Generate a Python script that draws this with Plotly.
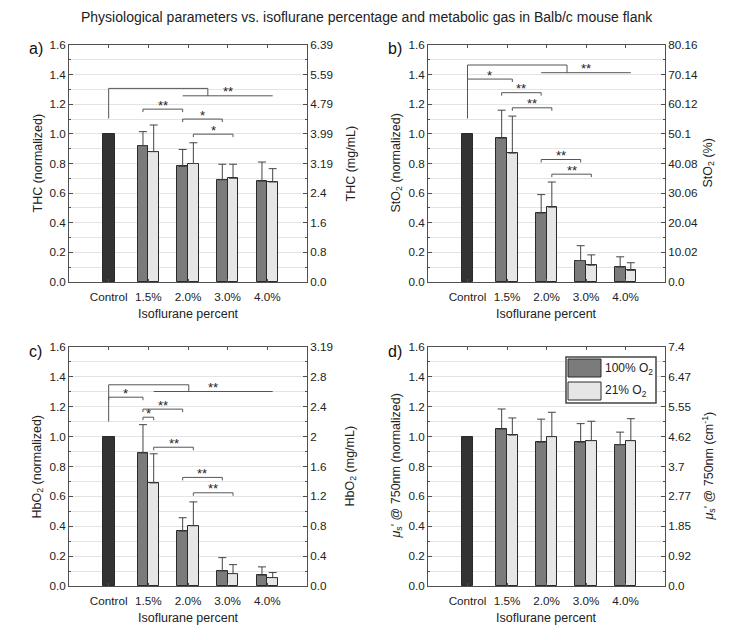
import plotly.graph_objects as go

# page body has an 8px default margin; size the figure so it fits the 733x640 window
MARGIN = 8
W, H = 733 - 2 * MARGIN, 640 - 2 * MARGIN
FONT = "Liberation Sans, Arial, sans-serif"

# ---------------- data ----------------
categories = ["Control", "1.5%", "2.0%", "3.0%", "4.0%"]
control_value = 1.0

thc_100 = [0.92, 0.78, 0.69, 0.68]
thc_100_err = [0.095, 0.115, 0.105, 0.13]
thc_21 = [0.88, 0.80, 0.70, 0.675]
thc_21_err = [0.18, 0.14, 0.095, 0.09]

sto2_100 = [0.97, 0.465, 0.145, 0.10]
sto2_100_err = [0.19, 0.125, 0.10, 0.07]
sto2_21 = [0.87, 0.505, 0.113, 0.078]
sto2_21_err = [0.25, 0.17, 0.07, 0.052]

hbo2_100 = [0.89, 0.367, 0.10, 0.072]
hbo2_100_err = [0.19, 0.09, 0.09, 0.056]
hbo2_21 = [0.69, 0.403, 0.083, 0.056]
hbo2_21_err = [0.195, 0.16, 0.06, 0.034]

mus_100 = [1.05, 0.962, 0.962, 0.945]
mus_100_err = [0.135, 0.155, 0.125, 0.085]
mus_21 = [1.01, 1.0, 0.973, 0.973]
mus_21_err = [0.115, 0.163, 0.13, 0.147]

left_ticks = [0.0, 0.2, 0.4, 0.6, 0.8, 1.0, 1.2, 1.4, 1.6]
thc_right_ticks = ["0.0", "0.8", "1.6", "2.4", "3.19", "3.99", "4.79", "5.59", "6.39"]
sto2_right_ticks = ["0.0", "10.02", "20.04", "30.06", "40.08", "50.1", "60.12", "70.14", "80.16"]
hbo2_right_ticks = ["0.0", "0.4", "0.8", "1.2", "1.6", "2", "2.4", "2.8", "3.19"]
mus_right_ticks = ["0.0", "0.92", "1.85", "2.77", "3.7", "4.62", "5.55", "6.47", "7.4"]

# significance brackets: (from, to, level, label); ends are (category, series)
thc_pairs = [
    (("1.5%", "100"), ("2.0%", "100"), 1.167, "**"),
    (("2.0%", "100"), ("3.0%", "100"), 1.10, "*"),
    (("2.0%", "21"), ("3.0%", "21"), 0.998, "*"),
]
thc_vs_control = dict(start=1.104, top=1.307, drop=3.5, frm=("2.0%", "100"), to=("4.0%", "21"), level=1.257, label="**")

sto2_pairs = [
    (("Control", "c"), ("1.5%", "21"), 1.370, "*"),
    (("1.5%", "100"), ("2.0%", "100"), 1.278, "**"),
    (("1.5%", "21"), ("2.0%", "21"), 1.176, "**"),
    (("2.0%", "100"), ("3.0%", "100"), 0.827, "**"),
    (("2.0%", "21"), ("3.0%", "21"), 0.728, "**"),
]
sto2_vs_control = dict(start=1.104, top=1.465, drop=3.52, frm=("2.0%", "100"), to=("4.0%", "21"), level=1.413, label="**")

hbo2_pairs = [
    (("Control", "c"), ("1.5%", "100"), 1.264, "*"),
    (("1.5%", "100"), ("2.0%", "100"), 1.184, "**"),
    (("1.5%", "100"), ("1.5%", "21"), 1.13, "*"),
    (("1.5%", "21"), ("2.0%", "21"), 0.929, "**"),
    (("2.0%", "100"), ("3.0%", "100"), 0.727, "**"),
    (("2.0%", "21"), ("3.0%", "21"), 0.624, "**"),
]
hbo2_vs_control = dict(start=1.101, top=1.347, drop=3.02, frm=("1.5%", "21"), to=("4.0%", "21"), level=1.302, label="**")

# ---------------- style ----------------
C_CTRL = "#333333"
C_100 = "#7b7b7b"
C_21 = "#e6e6e6"
EDGE = "#2a2a2a"
AXC = "#505050"
GRID = "#e4e4e4"
TXT = "#222222"
OFF = 0.135
BW = 0.27
TICKF = 11.7


def pos(ref):
    cat, s = ref
    i = categories.index(cat) + 1
    if s == "100":
        return i - OFF
    if s == "21":
        return i + OFF
    return i


def PX(x):
    return (x - MARGIN) / W


def PY(y):
    return 1 - (y - MARGIN) / H


panels = [
    dict(box=(69, 307, 45, 282), v100=thc_100, e100=thc_100_err, v21=thc_21, e21=thc_21_err,
         rt=thc_right_ticks, pairs=thc_pairs, big=thc_vs_control, tag="a)",
         ylab="THC (normalized)", rlab="THC (mg/mL)"),
    dict(box=(428, 665, 45, 282), v100=sto2_100, e100=sto2_100_err, v21=sto2_21, e21=sto2_21_err,
         rt=sto2_right_ticks, pairs=sto2_pairs, big=sto2_vs_control, tag="b)",
         ylab="StO<sub>2</sub> (normalized)", rlab="StO<sub>2</sub> (%)"),
    dict(box=(69, 307, 347, 586), v100=hbo2_100, e100=hbo2_100_err, v21=hbo2_21, e21=hbo2_21_err,
         rt=hbo2_right_ticks, pairs=hbo2_pairs, big=hbo2_vs_control, tag="c)",
         ylab="HbO<sub>2</sub> (normalized)", rlab="HbO<sub>2</sub> (mg/mL)"),
    dict(box=(428, 665, 347, 586), v100=mus_100, e100=mus_100_err, v21=mus_21, e21=mus_21_err,
         rt=mus_right_ticks, pairs=[], big=None, tag="d)",
         ylab="<i>μ</i><sub>s</sub>' @ 750nm (normalized)", rlab="<i>μ</i><sub>s</sub>' @ 750nm (cm<sup>-1</sup>)"),
]

fig = go.Figure()
layout = dict(width=W, height=H, margin=dict(l=0, r=0, t=0, b=0, autoexpand=False),
              plot_bgcolor="white", paper_bgcolor="white", showlegend=False,
              font=dict(family=FONT, size=12, color=TXT), bargap=0)
shapes = []
annotations = []

for k, p in enumerate(panels):
    n = k + 1
    xa = "x" if n == 1 else f"x{n}"
    yl_id = 2 * n - 1
    yr_id = 2 * n
    yl = "y" if yl_id == 1 else f"y{yl_id}"
    yr = f"y{yr_id}"
    x0, x1, y0, y1 = p["box"]
    xs = [i + 2 for i in range(len(categories) - 1)]

    fig.add_trace(go.Bar(x=[1], y=[control_value], width=[0.3], marker=dict(color=C_CTRL, line=dict(color=EDGE, width=1)),
                         xaxis=xa, yaxis=yl, hoverinfo="skip"))
    fig.add_trace(go.Bar(x=[v - OFF for v in xs], y=p["v100"], width=[BW] * 4,
                         marker=dict(color=C_100, line=dict(color=EDGE, width=1)),
                         error_y=dict(type="data", array=p["e100"], arrayminus=[0] * 4, symmetric=False,
                                      color="#444", thickness=1, width=4),
                         xaxis=xa, yaxis=yl, name="100% O2", hoverinfo="skip"))
    fig.add_trace(go.Bar(x=[v + OFF for v in xs], y=p["v21"], width=[BW] * 4,
                         marker=dict(color=C_21, line=dict(color=EDGE, width=1)),
                         error_y=dict(type="data", array=p["e21"], arrayminus=[0] * 4, symmetric=False,
                                      color="#444", thickness=1, width=4),
                         xaxis=xa, yaxis=yl, name="21% O2", hoverinfo="skip"))
    fig.add_trace(go.Scatter(x=[None], y=[None], xaxis=xa, yaxis=yr, hoverinfo="skip", showlegend=False))

    xdom = [PX(x0), PX(x1)]
    ydom = [PY(y1), PY(y0)]
    layout["xaxis" if n == 1 else f"xaxis{n}"] = dict(
        domain=xdom, anchor=yl, range=[0, 6], tickvals=[1, 2, 3, 4, 5], ticktext=categories,
        showline=True, linecolor=AXC, linewidth=1, mirror="ticks", ticks="inside", ticklen=3,
        tickcolor=AXC, showgrid=False, zeroline=False, tickfont=dict(size=TICKF, color=TXT, family=FONT),
        ticklabelstandoff=4, fixedrange=True, automargin=False)
    layout["yaxis" if yl_id == 1 else f"yaxis{yl_id}"] = dict(
        domain=ydom, anchor=xa, range=[0, 1.6], tickvals=left_ticks, tickformat=".1f",
        showline=True, linecolor=AXC, linewidth=1, ticks="inside", ticklen=4, tickcolor=AXC,
        showgrid=True, gridcolor=GRID, gridwidth=1, zeroline=False,
        minor=dict(dtick=0.1, showgrid=True, gridcolor=GRID, gridwidth=1, ticks="inside", ticklen=2, tickcolor=AXC),
        tickfont=dict(size=TICKF, color=TXT, family=FONT), fixedrange=True, automargin=False)
    layout[f"yaxis{yr_id}"] = dict(
        domain=ydom, anchor=xa, overlaying=yl, side="right", range=[0, 1.6], tickvals=left_ticks,
        ticktext=p["rt"], showline=True, linecolor=AXC, linewidth=1, ticks="inside", ticklen=4,
        tickcolor=AXC, showgrid=False, zeroline=False,
        minor=dict(dtick=0.1, ticks="inside", ticklen=2, tickcolor=AXC),
        tickfont=dict(size=TICKF, color=TXT, family=FONT), fixedrange=True, automargin=False)

    # labels
    annotations.append(dict(text=p["tag"], x=PX(x0 - 42), y=PY(y0 + 4), xref="paper", yref="paper",
                            xanchor="left", yanchor="middle", showarrow=False, font=dict(size=16, color="#111")))
    annotations.append(dict(text="Isoflurane percent", x=PX((x0 + x1) / 2), y=PY(y1 + 32), xref="paper", yref="paper",
                            xanchor="center", yanchor="middle", showarrow=False, font=dict(size=12.5, color=TXT)))
    annotations.append(dict(text=p["ylab"], x=PX(x0 - 32), y=PY((y0 + y1) / 2), xref="paper", yref="paper",
                            textangle=-90, xanchor="center", yanchor="middle", showarrow=False,
                            font=dict(size=12.5, color=TXT)))
    annotations.append(dict(text=p["rlab"], x=PX(x1 + 43), y=PY((y0 + y1) / 2), xref="paper", yref="paper",
                            textangle=-90, xanchor="center", yanchor="middle", showarrow=False,
                            font=dict(size=12.5, color=TXT)))

    # significance brackets
    line = dict(color="#555555", width=1)
    tick = 0.02
    for a, b, lev, lab in p["pairs"]:
        xa0, xb0 = pos(a), pos(b)
        shapes.append(dict(type="path", xref=xa, yref=yl,
                           path=f"M {xa0},{lev - tick} L {xa0},{lev} L {xb0},{lev} L {xb0},{lev - tick}",
                           line=line))
        annotations.append(dict(text=lab, x=(xa0 + xb0) / 2, y=lev, xref=xa, yref=yl, showarrow=False,
                                xanchor="center", yanchor="middle", yshift=4, font=dict(size=13, color="#222")))
    big = p["big"]
    if big:
        shapes.append(dict(type="path", xref=xa, yref=yl,
                           path=f"M 1,{big['start']} L 1,{big['top']} L {big['drop']},{big['top']} L {big['drop']},{big['level']}",
                           line=line))
        fa, ta = pos(big["frm"]), pos(big["to"])
        shapes.append(dict(type="line", xref=xa, yref=yl, x0=fa, x1=ta, y0=big["level"], y1=big["level"], line=line))
        annotations.append(dict(text=big["label"], x=(fa + ta) / 2, y=big["level"], xref=xa, yref=yl, showarrow=False,
                                xanchor="center", yanchor="middle", yshift=4, font=dict(size=13, color="#222")))

# legend (panel d)
shapes.append(dict(type="rect", xref="paper", yref="paper", x0=PX(566), x1=PX(656), y0=PY(403), y1=PY(357),
                   line=dict(color="#444", width=1.5), fillcolor="white"))
shapes.append(dict(type="rect", xref="paper", yref="paper", x0=PX(568), x1=PX(601), y0=PY(377), y1=PY(359),
                   line=dict(color=EDGE, width=1), fillcolor=C_100))
shapes.append(dict(type="rect", xref="paper", yref="paper", x0=PX(568), x1=PX(601), y0=PY(400), y1=PY(382),
                   line=dict(color=EDGE, width=1), fillcolor=C_21))
annotations.append(dict(text="100% O<sub>2</sub>", x=PX(603), y=PY(369), xref="paper", yref="paper",
                        xanchor="left", yanchor="middle", showarrow=False, font=dict(size=12, color=TXT)))
annotations.append(dict(text="21% O<sub>2</sub>", x=PX(603), y=PY(391), xref="paper", yref="paper",
                        xanchor="left", yanchor="middle", showarrow=False, font=dict(size=12, color=TXT)))

annotations.append(dict(text="Physiological parameters vs. isoflurane percentage and metabolic gas in Balb/c mouse flank",
                        x=PX(367), y=PY(17.5), xref="paper", yref="paper", xanchor="center", yanchor="middle",
                        showarrow=False, font=dict(size=14, color=TXT)))

layout["shapes"] = shapes
layout["annotations"] = annotations
fig.update_layout(**layout)
fig.write_html("out.html")
